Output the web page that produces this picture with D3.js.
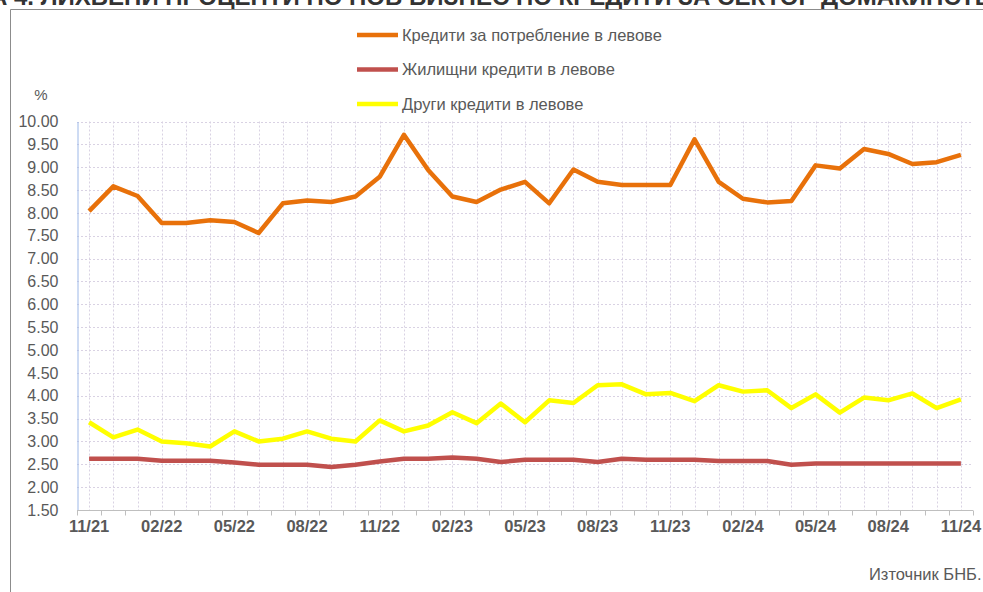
<!DOCTYPE html>
<html>
<head>
<meta charset="utf-8">
<script src="https://cdn.jsdelivr.net/npm/d3@7"></script>
<style>
  body { margin: 0; background: #fff; }
  svg { display: block; }
</style>
</head>
<body>
<svg id="chart"></svg>
<script>
var W = 983, H = 592;
var FONT = "Liberation Sans, Arial, sans-serif";

// months 11/21 .. 11/24
var months = [];
for (var y = 21; y <= 24; y++) {
  for (var m = 1; m <= 12; m++) {
    if (y == 21 && m < 11) continue;
    if (y == 24 && m > 11) continue;
    months.push((m < 10 ? "0" + m : "" + m) + "/" + y);
  }
}

var consumer = [8.04, 8.58, 8.37, 7.78, 7.78, 7.84, 7.80, 7.56, 8.21, 8.27, 8.24, 8.36, 8.79, 9.71, 8.94, 8.36, 8.24, 8.51,
  8.68, 8.21, 8.95, 8.68, 8.61, 8.61, 8.61, 9.61, 8.68, 8.31, 8.23, 8.26, 9.04, 8.97, 9.40, 9.29, 9.07, 9.11, 9.27];
var housing = [2.62, 2.62, 2.62, 2.58, 2.58, 2.58, 2.54, 2.49, 2.49, 2.49, 2.44, 2.49, 2.56, 2.62, 2.62, 2.65, 2.62, 2.55,
  2.60, 2.60, 2.60, 2.55, 2.62, 2.60, 2.60, 2.60, 2.57, 2.57, 2.57, 2.49, 2.52, 2.52, 2.52, 2.52, 2.52, 2.52, 2.52];
var other = [3.42, 3.09, 3.26, 3.00, 2.96, 2.89, 3.22, 3.00, 3.06, 3.22, 3.06, 3.00, 3.46, 3.22, 3.35, 3.64, 3.40, 3.83,
  3.42, 3.90, 3.84, 4.23, 4.25, 4.03, 4.06, 3.88, 4.23, 4.09, 4.12, 3.73, 4.03, 3.63, 3.96, 3.90, 4.05, 3.73, 3.92];

var seriesNames = ["Кредити за потребление в левове", "Жилищни кредити в левове", "Други кредити в левове"];
var seriesColors = ["#E8710A", "#C0504D", "#FFFF00"];
var yTicks = [1.5, 2, 2.5, 3, 3.5, 4, 4.5, 5, 5.5, 6, 6.5, 7, 7.5, 8, 8.5, 9, 9.5, 10];

var svg = d3.select("#chart").attr("width", W).attr("height", H);
svg.append("rect").attr("width", W).attr("height", H).attr("fill", "#fff");

// title (cut at the top, like the reference)
svg.append("text")
  .attr("x", -10).attr("y", 4.5)
  .attr("font-family", FONT)
  .attr("font-weight", "bold")
  .attr("font-size", 24)
  .attr("fill", "#333")
  .text("А 4. ЛИХВЕНИ ПРОЦЕНТИ ПО НОВ БИЗНЕС ПО КРЕДИТИ ЗА СЕКТОР ДОМАКИНСТВА");

// chart frame
svg.append("path")
  .attr("d", "M10.5," + (H + 5) + " L10.5,9.5 L" + (W + 5) + ",9.5")
  .attr("fill", "none").attr("stroke", "#8c8c8c").attr("stroke-width", 1);

var x = d3.scaleBand().domain(months).range([77, 973]).padding(0);
var yS = d3.scaleLinear().domain([1.5, 10]).range([510, 121.5]);
var cx = function(d){ return x(d) + x.bandwidth() / 2; };

// horizontal grid
svg.append("g").selectAll("line").data(yTicks.slice(1)).enter().append("line")
  .attr("x1", 77).attr("x2", 973)
  .attr("y1", function(d){ return Math.round(yS(d)) + 0.5; })
  .attr("y2", function(d){ return Math.round(yS(d)) + 0.5; })
  .attr("stroke", "#d9d2e3").attr("stroke-dasharray", "2,2");

// vertical grid at points
svg.append("g").selectAll("line").data(months).enter().append("line")
  .attr("x1", function(d){ return Math.round(cx(d)) + 0.5; })
  .attr("x2", function(d){ return Math.round(cx(d)) + 0.5; })
  .attr("y1", 121.5).attr("y2", 510)
  .attr("stroke", "#d9d2e3").attr("stroke-dasharray", "2,2");

// y axis
var yAxis = d3.axisLeft(yS).tickValues(yTicks).tickFormat(d3.format(".2f")).tickSize(0).tickPadding(19);
var gy = svg.append("g").attr("transform", "translate(77.5,0)").call(yAxis);
gy.select(".domain").attr("stroke", "#9db8e8");
gy.selectAll("text").attr("font-family", FONT).attr("font-size", 16).attr("fill", "#595959");

svg.append("text").attr("x", 41).attr("y", 100).attr("text-anchor", "middle")
  .attr("font-family", FONT).attr("font-size", 15).attr("fill", "#595959").text("%");

// x axis: ticks on band borders, labels every 3 months
var gx = svg.append("g").attr("transform", "translate(0,510.5)");
gx.append("line").attr("x1", 77).attr("x2", 973).attr("stroke", "#bfbfbf");
var borders = months.map(function(d){ return x(d); }).concat([973]);
gx.selectAll("line.tk").data(borders).enter().append("line").attr("class", "tk")
  .attr("x1", function(d){ return Math.round(d) + 0.5; })
  .attr("x2", function(d){ return Math.round(d) + 0.5; })
  .attr("y1", 0).attr("y2", 5).attr("stroke", "#bfbfbf");
gx.selectAll("text").data(months.filter(function(d, i){ return i % 3 == 0; })).enter().append("text")
  .attr("x", cx).attr("y", 21).attr("text-anchor", "middle")
  .attr("font-family", FONT).attr("font-size", 16.5).attr("font-weight", "bold")
  .attr("fill", "#595959").text(function(d){ return d; });

// lines
var allSeries = [consumer, housing, other];
var line = d3.line()
  .x(function(d, i){ return cx(months[i]); })
  .y(function(d){ return yS(d); });
[1, 2, 0].forEach(function(k){
  svg.append("path").datum(allSeries[k])
    .attr("d", line)
    .attr("fill", "none")
    .attr("stroke", seriesColors[k])
    .attr("stroke-width", 4.5)
    .attr("stroke-linejoin", "round");
});

// legend
var lg = svg.append("g");
seriesNames.forEach(function(n, k){
  var ly = 35 + k * 34.5;
  lg.append("line").attr("x1", 357).attr("x2", 398).attr("y1", ly).attr("y2", ly)
    .attr("stroke", seriesColors[k]).attr("stroke-width", 4.5);
  lg.append("text").attr("x", 402).attr("y", ly + 5.5)
    .attr("font-family", FONT).attr("font-size", 16.5).attr("fill", "#595959")
    .text(n);
});

// source
svg.append("text").attr("x", 869).attr("y", 580)
  .attr("font-family", FONT).attr("font-size", 16.5).attr("fill", "#595959")
  .text("Източник БНБ.");
</script>
</body>
</html>
